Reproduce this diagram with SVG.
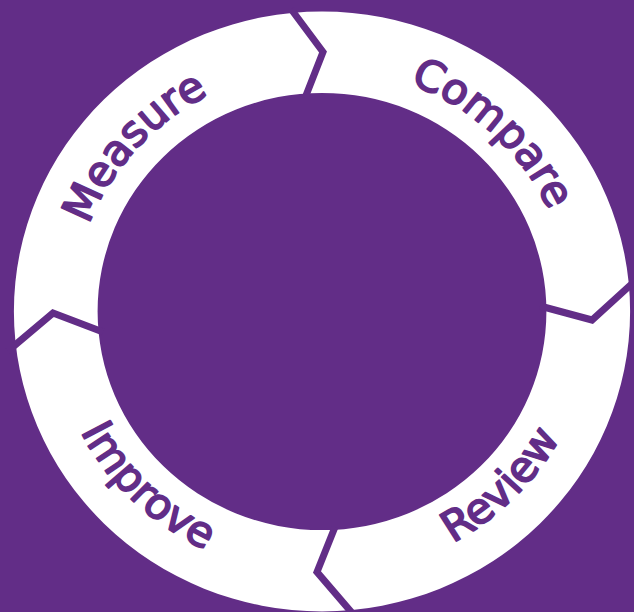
<svg xmlns="http://www.w3.org/2000/svg" xmlns:xlink="http://www.w3.org/1999/xlink" width="634" height="612" viewBox="0 0 634 612">
  <style>
    .bg { fill: #622d87; }
    .ring { fill: #ffffff; fill-rule: evenodd; }
    .divider { fill: none; stroke: #622d87; stroke-width: 7; stroke-linejoin: miter; stroke-linecap: butt; }
    .label { font-family: "DejaVu Sans", "Liberation Sans", sans-serif; font-size: 42px; fill: #622d87; stroke: #622d87; stroke-width: 1.8; stroke-linejoin: round; text-anchor: middle; }
  </style>
  <defs>
    <path id="arcTop" d="M -243 0 A 243 243 0 1 1 243 0 A 243 243 0 1 1 -243 0"/>
    <path id="arcBot" d="M -264 0 A 264 264 0 1 0 264 0 A 264 264 0 1 0 -264 0"/>
  </defs>
  <rect class="bg" x="0" y="0" width="634" height="612"/>
  <g transform="translate(322,311.5) scale(1.027,1)">
    <g id="ring">
      <path class="ring" d="M 300 0 A 300 300 0 1 1 -300 0 A 300 300 0 1 1 300 0 Z M 218.5 0 A 218.5 218.5 0 1 0 -218.5 0 A 218.5 218.5 0 1 0 218.5 0 Z"/>
    </g>
    <g id="measure">
      <text class="label"><textPath xlink:href="#arcTop" href="#arcTop" startOffset="178">Measure</textPath></text>
    </g>
    <g id="compare">
      <text class="label"><textPath xlink:href="#arcTop" href="#arcTop" startOffset="564">Compare</textPath></text>
    </g>
    <g id="review">
      <text class="label"><textPath xlink:href="#arcBot" href="#arcBot" startOffset="622">Review</textPath></text>
    </g>
    <g id="improve">
      <text class="label"><textPath xlink:href="#arcBot" href="#arcBot" startOffset="211">Improve</textPath></text>
    </g>
  </g>
  <g id="connectors">
    <polyline class="divider" points="291,9 323,52 305,98"/>
    <polyline class="divider" points="540,306 592,320 636,280"/>
    <polyline class="divider" points="335,527 317,572 353,614"/>
    <polyline class="divider" points="8,351 53,313 103,332"/>
  </g>
</svg>
